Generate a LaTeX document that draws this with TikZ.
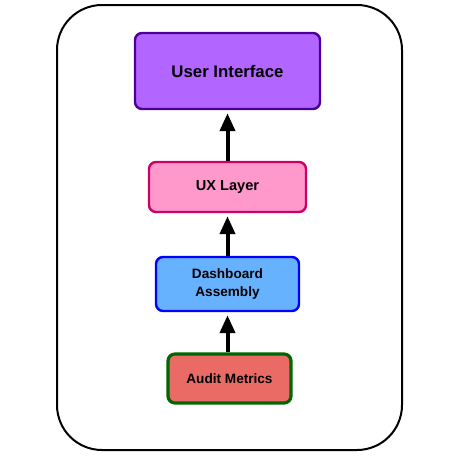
\documentclass[tikz,border=0pt]{standalone}
\usepackage{fontspec}
\setmainfont{Liberation Sans}
\usetikzlibrary{arrows.meta, positioning}
\definecolor{cpurple}{HTML}{B266FF}
\definecolor{cpurpled}{HTML}{4C0099}
\definecolor{cpink}{HTML}{FF99CC}
\definecolor{cpinkd}{HTML}{CC0066}
\definecolor{cblue}{HTML}{66B2FF}
\definecolor{cblued}{HTML}{0000FF}
\definecolor{cred}{HTML}{EA6B66}
\definecolor{cgreen}{HTML}{006600}
\tikzset{
  layer/.style={draw=#1, rounded corners=7pt, align=center, line width=2.4pt, font=\bfseries\fontsize{13.6}{18}\selectfont, inner sep=0pt},
  arrow/.style={-{Triangle[length=18pt, width=15pt]}, line width=4pt, draw=black, shorten >=3pt},
}

\begin{document}
\begin{tikzpicture}[x=1pt, y=-1pt]
  \useasboundingbox (0,0) rectangle (472,458);
  % outer frame
  \draw[line width=2pt, rounded corners=45pt] (57,5) rectangle (402,450);
  % stacked layers, bottom to top
  \node[layer=cpurpled, fill=cpurple, minimum width=185pt, minimum height=76pt, font=\bfseries\fontsize{16.8}{19}\selectfont] (ui) at (227.5,71) {User Interface};
  \node[layer=cpinkd, fill=cpink, minimum width=157pt, minimum height=50pt, font=\bfseries\fontsize{14.6}{17}\selectfont] (ux) at (227.5,187) {\raisebox{-1.5pt}{UX Layer}};
  \node[layer=cblued, fill=cblue, minimum width=143pt, minimum height=54pt] (dash) at (227.5,284) {Dashboard\\Assembly};
  \node[layer=cgreen, fill=cred, minimum width=123pt, minimum height=49pt, line width=3.2pt] (audit) at (229.5,378.5) {Audit Metrics};
  % upward arrows
  \draw[arrow] (audit.north -| dash.north) -- (dash.south);
  \draw[arrow] (dash.north) -- (ux.south);
  \draw[arrow] (ux.north) -- (ui.south);
\end{tikzpicture}
\end{document}
